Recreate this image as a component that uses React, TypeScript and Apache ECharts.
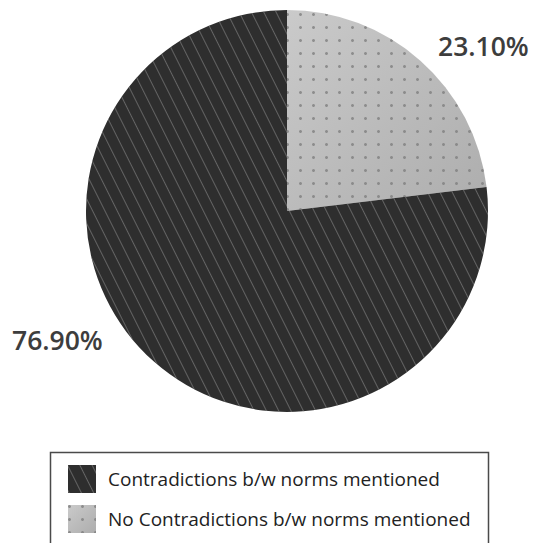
import React, { useEffect, useRef } from "react";
import * as echarts from "echarts";

// Slice order runs clockwise from 12 o'clock
const categories = [
  "No Contradictions b/w norms mentioned",
  "Contradictions b/w norms mentioned",
];
const shares = [23.1, 76.9];
const legendOrder = [
  "Contradictions b/w norms mentioned",
  "No Contradictions b/w norms mentioned",
];

const FONT = "'Open Sans', 'Noto Sans', sans-serif";

export default function App() {
  const ref = useRef<HTMLDivElement>(null);

  useEffect(() => {
    if (!ref.current) return;
    const chart = echarts.init(ref.current, null, { renderer: "svg" });

    const dotted = {
      color: new echarts.graphic.LinearGradient(0, 0, 1, 1, [
        { offset: 0, color: "#cacaca" },
        { offset: 1, color: "#adadad" },
      ]),
      decal: {
        symbol: "circle",
        symbolSize: 1,
        color: "rgba(128,128,128,0.8)",
        dashArrayX: [2.4, 9.6],
        dashArrayY: [2.4, 9.6],
        rotation: 0,
      },
    };
    const striped = {
      color: "#2e2e2e",
      decal: {
        symbol: "rect",
        symbolSize: 1,
        color: "rgba(135,135,135,0.6)",
        dashArrayX: [1, 0],
        dashArrayY: [1, 9.8],
        rotation: 1.107,
      },
    };

    const data = categories.map((name, i) => ({
      name,
      value: shares[i],
      itemStyle: i === 0 ? dotted : striped,
    }));

    chart.setOption({
      animation: false,
      backgroundColor: "#ffffff",
      legend: {
        data: legendOrder,
        orient: "vertical",
        left: 68,
        top: 465,
        padding: 0,
        itemWidth: 28,
        itemHeight: 28,
        itemGap: 12,
        icon: "rect",
        selectedMode: false,
        textStyle: {
          fontFamily: FONT,
          fontSize: 19,
          color: "#222222",
          padding: [0, 0, 0, 7],
        },
      },
      graphic: [
        {
          type: "rect",
          shape: { x: 50.5, y: 452.5, width: 438, height: 140 },
          style: { fill: "none", stroke: "#4a4a4a", lineWidth: 1.5 },
          silent: true,
        },
      ],
      series: [
        {
          type: "pie",
          center: [287, 211],
          radius: 201,
          startAngle: 90,
          clockwise: true,
          data,
          label: {
            show: true,
            position: "outside",
            overflow: "none",
            alignTo: "none",
            formatter: (p: any) => `${Number(p.value).toFixed(2)}%`,
            fontFamily: FONT,
            fontSize: 26.5,
            fontWeight: 600,
            color: "#3d3d3d",
          },
          labelLine: { show: false },
          labelLayout: (p: any) =>
            p.dataIndex === 0
              ? { x: 438, y: 46, align: "left", verticalAlign: "middle", width: 130 }
              : { x: 12, y: 340, align: "left", verticalAlign: "middle", width: 130 },
          emphasis: { disabled: true },
        },
      ],
    });

    return () => chart.dispose();
  }, []);

  return (
    <div
      ref={ref}
      style={{ position: "fixed", left: 0, top: 0, width: 533, height: 543 }}
    />
  );
}
